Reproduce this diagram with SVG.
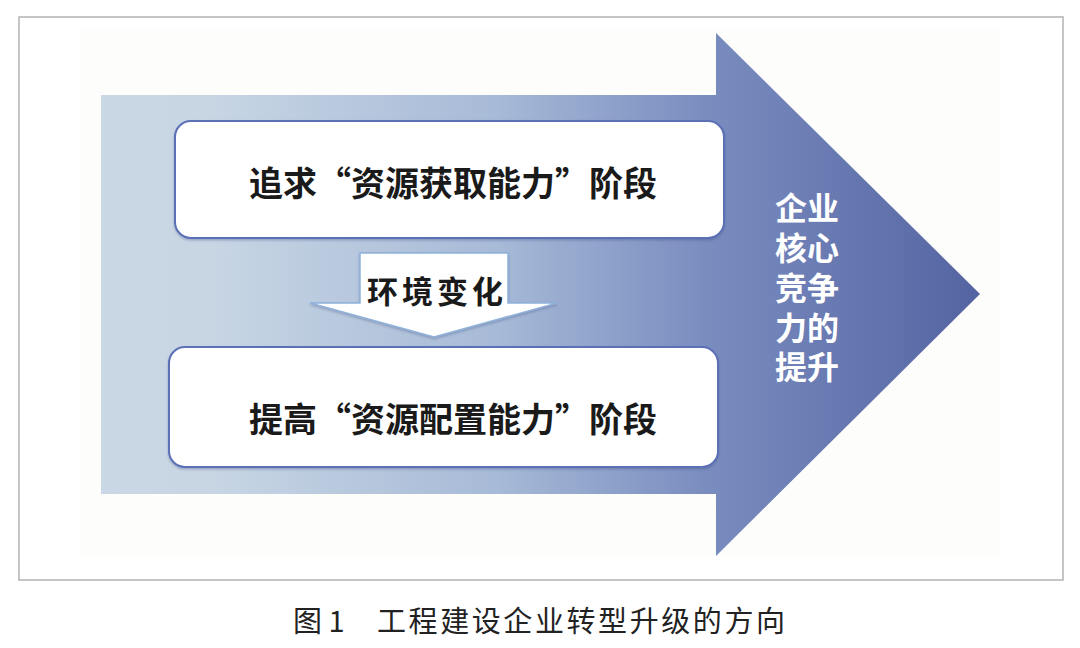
<svg xmlns="http://www.w3.org/2000/svg" width="1080" height="648" viewBox="0 0 1080 648">
  <defs>
    <linearGradient id="bigArrow" gradientUnits="userSpaceOnUse" x1="101" y1="0" x2="980" y2="0">
      <stop offset="0" stop-color="#cad7e5"/>
      <stop offset="0.12" stop-color="#c8d6e4"/>
      <stop offset="0.45" stop-color="#a7bad7"/>
      <stop offset="0.68" stop-color="#7b8ec0"/>
      <stop offset="1" stop-color="#5464a2"/>
    </linearGradient>
    <filter id="shadow" x="-10%" y="-10%" width="120%" height="130%">
      <feDropShadow dx="0" dy="1.5" stdDeviation="1.2" flood-color="#3a4a80" flood-opacity="0.35"/>
    </filter>
  </defs>
  <style>
    .stage { fill: #ffffff; stroke: #5b70b6; stroke-width: 2; }
    .stageText { font-family: "Noto Sans CJK SC", "Noto Sans", sans-serif; font-weight: 700; font-size: 34px; fill: #1a1a1a; text-anchor: middle; }
    .sideText { font-family: "Noto Sans CJK SC", "Noto Sans", sans-serif; font-weight: 700; font-size: 32px; fill: #ffffff; text-anchor: middle; }
    .caption { font-family: "Noto Sans CJK SC", "Noto Sans", sans-serif; font-size: 29px; fill: #222222; }
  </style>

  <rect x="0" y="0" width="1080" height="648" fill="#ffffff"/>
  <rect id="frame" x="19" y="17" width="1044" height="563" fill="#ffffff" stroke="#b3b3b3" stroke-width="1.5"/>
  <rect x="80" y="30" width="920" height="527" fill="#fdfdfc"/>

  <g id="big-arrow">
    <polygon points="101,95 716,95 716,33 980,294 716,556 716,494 101,494" fill="url(#bigArrow)"/>
    <text class="sideText" x="807" y="220">企业</text>
    <text class="sideText" x="807" y="260">核心</text>
    <text class="sideText" x="807" y="300">竞争</text>
    <text class="sideText" x="807" y="340">力的</text>
    <text class="sideText" x="807" y="379">提升</text>
  </g>

  <g id="stage1">
    <rect class="stage" x="175" y="121" width="549" height="117" rx="16" filter="url(#shadow)"/>
    <text class="stageText" x="453" y="196">追求“资源获取能力”阶段</text>
  </g>

  <g id="connectors">
    <g id="change-arrow">
      <polygon points="360,253 508,253 508,303 557,303 434,337 310,303 360,303" fill="#ffffff" stroke="#8fb1da" stroke-width="1.5" filter="url(#shadow)"/>
      <text x="435" y="303" font-family="Noto Sans CJK SC, Noto Sans, sans-serif" font-weight="700" font-size="31" fill="#1a1a1a" text-anchor="middle" textLength="136" lengthAdjust="spacing">环境变化</text>
    </g>
  </g>

  <g id="stage2">
    <rect class="stage" x="169" y="347" width="549" height="120" rx="16" filter="url(#shadow)"/>
    <text class="stageText" x="453" y="432">提高“资源配置能力”阶段</text>
  </g>

  <g id="caption">
    <text class="caption" x="293" y="632">图 1</text>
    <text class="caption" x="377" y="632" textLength="408" lengthAdjust="spacing">工程建设企业转型升级的方向</text>
  </g>
</svg>
